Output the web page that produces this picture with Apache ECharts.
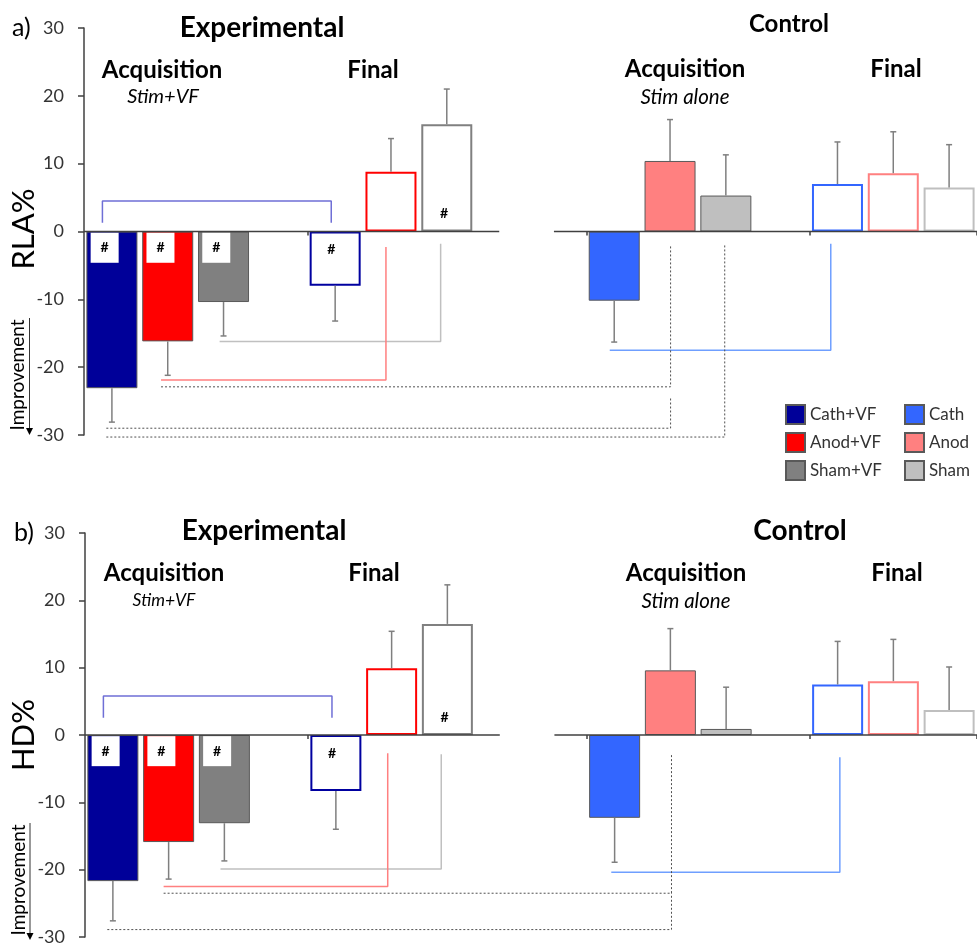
<!DOCTYPE html>
<html><head><meta charset="utf-8">
<script src="https://cdn.jsdelivr.net/npm/echarts@6/dist/echarts.min.js"></script>
<style>html,body{margin:0;padding:0;background:#fff}#c{width:977px;height:946px}</style>
</head><body><div id="c"></div>
<script>
// ---------- DATA ----------
const categories = ['Exp Acq Cath+VF','Exp Acq Anod+VF','Exp Acq Sham+VF','gap1',
  'Exp Final Cath+VF','Exp Final Anod+VF','Exp Final Sham+VF','gap2','gap3',
  'Ctrl Acq Cath','Ctrl Acq Anod','Ctrl Acq Sham','gap4',
  'Ctrl Final Cath','Ctrl Final Anod','Ctrl Final Sham'];
const seriesNames = ['Cath+VF','Anod+VF','Sham+VF','Cath','Anod','Sham'];
const acqSlots = [0,1,2,9,10,11];
const finalSlots = [4,5,6,13,14,15];
const tickSlots = [4,9,13];
const yTicks = [-30,-20,-10,0,10,20,30];

// a) RLA%
const rlaAcq      = [-23.1,-16.2,-10.4,-10.2,10.4,5.3];
const rlaAcqErr   = [5.0,5.0,5.0,6.1,6.1,6.0];
const rlaFinal    = [-8.0,8.8,15.8,7.0,8.6,6.5];
const rlaFinalErr = [5.2,4.9,5.2,6.2,6.1,6.3];
// b) HD%
const hdAcq       = [-21.7,-15.9,-13.1,-12.3,9.6,0.9];
const hdAcqErr    = [5.9,5.5,5.6,6.6,6.2,6.2];
const hdFinal     = [-8.3,9.9,16.5,7.5,8.0,3.7];
const hdFinalErr  = [5.7,5.5,5.8,6.4,6.2,6.4];

// '#' annotations: [slot, x-offset within slot, value]
const hashA = [[0,-0.13,-2.4],[1,-0.13,-2.4],[2,-0.13,-2.4],[4,-0.07,-2.7],[6,-0.05,2.7]];
const hashB = [[0,-0.13,-2.4],[1,-0.13,-2.4],[2,-0.13,-2.4],[4,-0.07,-2.7],[6,-0.05,2.6]];

// comparison brackets (slot units, values)
const bracketsA = [
  {c:'#6f6fd6', pts:[[0.33,1.3],[0.33,4.5],[4.43,4.5],[4.43,1.3]]},
  {c:'#c0c0c0', pts:[[2.43,-16.2],[6.39,-16.2],[6.39,-1.8]]},
  {c:'#ff8080', pts:[[1.38,-21.9],[5.41,-21.9],[5.41,-2.3]]},
  {c:'#6f9fff', pts:[[9.42,-17.5],[13.38,-17.5],[13.38,-1.8]]}
];
const dottedA = [
  [[1.38,-22.9],[10.51,-22.9],[10.51,-2.0]],
  [[0.40,-29.0],[10.51,-29.0],[10.51,-24.4]],
  [[0.40,-30.3],[11.48,-30.3],[11.48,-2.0]]
];
const bracketsB = [
  {c:'#6f6fd6', pts:[[0.33,2.55],[0.33,5.8],[4.43,5.8],[4.43,2.55]]},
  {c:'#c0c0c0', pts:[[2.43,-19.9],[6.39,-19.9],[6.39,-2.85]]},
  {c:'#ff8080', pts:[[1.41,-22.5],[5.43,-22.5],[5.43,-2.7]]},
  {c:'#6f9fff', pts:[[9.44,-20.4],[13.54,-20.4],[13.54,-3.3]]}
];
const dottedB = [
  [[1.41,-23.5],[10.52,-23.5],[10.52,-2.8]],
  [[0.40,-28.9],[10.52,-28.9],[10.52,-23.5]]
];
const baselineSegs = [[[0,0],[7.44,0]],[[8.42,0],[16,0]]];

// ---------- STYLE ----------
const fillColors = ['#000099','#ff0000','#808080','#3366ff','#ff8080','#bfbfbf'];
const finalBorder = ['#0000a0','#ff0000','#808080','#3366ff','#ff8080','#bfbfbf'];
const FONT = 'Lato';

const grids = [{left:84, top:28, width:901, height:407},{left:85, top:533, width:901, height:408}];
const xAxes = [], yAxes = [], series = [];

function buildPanel(gi, acq, acqErr, fin, finErr, hashes, brackets, dotted){
  xAxes.push({gridIndex:gi, type:'category', data:categories,
    axisLine:{show:false, onZero:true},
    axisTick:{show:true, length:4, interval:(i)=>tickSlots.includes(i), lineStyle:{color:'#404040', width:1.5}},
    axisLabel:{show:false}, splitLine:{show:false}});
  xAxes.push({gridIndex:gi, type:'value', min:0, max:16, show:false, position:'top'});
  yAxes.push({gridIndex:gi, type:'value', min:yTicks[0], max:yTicks[yTicks.length-1], interval:10,
    axisLine:{show:true, onZero:false, lineStyle:{color:'#404040', width:1.5}},
    axisTick:{show:true, length:6, lineStyle:{color:'#404040', width:1.5}},
    axisLabel:{fontSize:18, color:'#333', margin:20, fontFamily:FONT},
    splitLine:{show:false}});
  const xc = gi*2, xv = gi*2+1;
  seriesNames.forEach((name, s) => {
    const data = categories.map(() => '-');
    data[acqSlots[s]] = {value: acq[s], itemStyle:{color:fillColors[s], borderColor:'#595959', borderWidth:1}};
    data[finalSlots[s]] = {value: fin[s], itemStyle:{color:'#ffffff', borderColor:finalBorder[s], borderWidth:2}};
    series.push({type:'bar', name, xAxisIndex:xc, yAxisIndex:gi, stack:'p'+gi, barWidth:51,
      itemStyle:{color:fillColors[s], borderColor:'#595959', borderWidth:1}, data, z:2, silent:true});
  });
  const errData = [];
  seriesNames.forEach((n, s) => {
    errData.push([acqSlots[s], acq[s], acqErr[s]]);
    errData.push([finalSlots[s], fin[s], finErr[s]]);
  });
  series.push({type:'custom', xAxisIndex:xc, yAxisIndex:gi, z:3, silent:true, clip:false,
    encode:{x:0, y:1}, data:errData,
    renderItem:(params, api) => {
      const x = api.value(0), v = api.value(1), e = api.value(2);
      const end = v + (v < 0 ? -e : e);
      const p0 = api.coord([x, v]), p1 = api.coord([x, end]);
      const st = {stroke:'#7f7f7f', lineWidth:1.5};
      return {type:'group', children:[
        {type:'line', shape:{x1:p0[0], y1:p0[1], x2:p1[0], y2:p1[1]}, style:st},
        {type:'line', shape:{x1:p1[0]-3, y1:p1[1], x2:p1[0]+3, y2:p1[1]}, style:st}
      ]};
    }});
  baselineSegs.forEach(seg => series.push({type:'line', xAxisIndex:xv, yAxisIndex:gi, data:seg,
    symbol:'none', silent:true, z:4, clip:false, lineStyle:{color:'#404040', width:1.5}}));
  brackets.forEach(b => series.push({type:'line', xAxisIndex:xv, yAxisIndex:gi, data:b.pts,
    symbol:'none', silent:true, z:1, clip:false, lineStyle:{color:b.c, width:1.5}}));
  dotted.forEach(pts => series.push({type:'line', xAxisIndex:xv, yAxisIndex:gi, data:pts,
    symbol:'none', silent:true, z:1, clip:false, lineStyle:{color:'#505050', width:1, type:[2,2]}}));
  series.push({type:'scatter', xAxisIndex:xv, yAxisIndex:gi, silent:true, z:5,
    data: hashes.map(h => [h[0] + 0.5 + h[1], h[2]]),
    symbol:'rect', symbolSize:[28,30], itemStyle:{color:'#ffffff', opacity:1},
    label:{show:true, position:'inside', formatter:'#', fontSize:14, fontWeight:'bold', color:'#000', fontFamily:FONT}});
}
buildPanel(0, rlaAcq, rlaAcqErr, rlaFinal, rlaFinalErr, hashA, bracketsA, dottedA);
buildPanel(1, hdAcq, hdAcqErr, hdFinal, hdFinalErr, hashB, bracketsB, dottedB);

function txt(text, x, y, size, weight, style, rot, align){
  return {type:'text', x, y, rotation: rot || 0, silent:true,
    style:{text, fontSize:size, fontWeight:weight||'normal', fontStyle:style||'normal', fontFamily:FONT,
      fill:'#000', align: align || 'center', verticalAlign:'middle'}};
}
function arrow(x, y1, y2){
  return [
    {type:'line', silent:true, shape:{x1:x, y1:y1, x2:x, y2:y2-6}, style:{stroke:'#333', lineWidth:1}},
    {type:'polygon', silent:true, shape:{points:[[x-3.5,y2-7],[x+3.5,y2-7],[x,y2]]}, style:{fill:'#000'}}
  ];
}
const graphics = [
  txt('a)', 12, 28, 25, 'normal', 'normal', 0, 'left'),
  txt('Experimental', 262, 28, 28, 'bold'),
  txt('Control', 789, 24, 24, 'bold'),
  txt('Acquisition', 162, 70, 24, 'bold'),
  txt('Stim+VF', 163, 97, 20, 'normal', 'italic'),
  txt('Final', 373, 70, 24, 'bold'),
  txt('Acquisition', 685, 69, 24, 'bold'),
  txt('Stim alone', 685, 97, 20.5, 'normal', 'italic'),
  txt('Final', 896, 69, 24, 'bold'),
  txt('RLA%', 24, 229, 31, 'normal', 'normal', Math.PI/2),
  txt('Improvement', 18, 375, 19, 'normal', 'normal', Math.PI/2),
  ...arrow(29.5, 318, 435),
  txt('b)', 14, 533, 25, 'normal', 'normal', 0, 'left'),
  txt('Experimental', 264, 531, 28, 'bold'),
  txt('Control', 800, 531, 28, 'bold'),
  txt('Acquisition', 164, 573, 24, 'bold'),
  txt('Stim+VF', 164, 600, 17.5, 'normal', 'italic'),
  txt('Final', 374, 573, 24, 'bold'),
  txt('Acquisition', 686, 573, 24, 'bold'),
  txt('Stim alone', 686, 601, 20.5, 'normal', 'italic'),
  txt('Final', 897, 573, 24, 'bold'),
  txt('HD%', 24, 735, 31, 'normal', 'normal', Math.PI/2),
  txt('Improvement', 19, 880, 19, 'normal', 'normal', Math.PI/2),
  ...arrow(30, 823, 940)
];

const legendCommon = {orient:'vertical', itemWidth:19, itemHeight:19, itemGap:7, icon:'rect',
  textStyle:{fontSize:17, color:'#333', fontFamily:FONT}, selectedMode:false};
const chart = echarts.init(document.getElementById('c'), null, {renderer:'canvas'});
chart.setOption({
  animation:false,
  backgroundColor:'#fff',
  grid: grids,
  xAxis: xAxes,
  yAxis: yAxes,
  legend: [
    Object.assign({left:780, top:399, data:seriesNames.slice(0,3)}, legendCommon),
    Object.assign({left:899, top:399, data:seriesNames.slice(3)}, legendCommon)
  ],
  graphic: graphics,
  series
});
</script></body></html>
